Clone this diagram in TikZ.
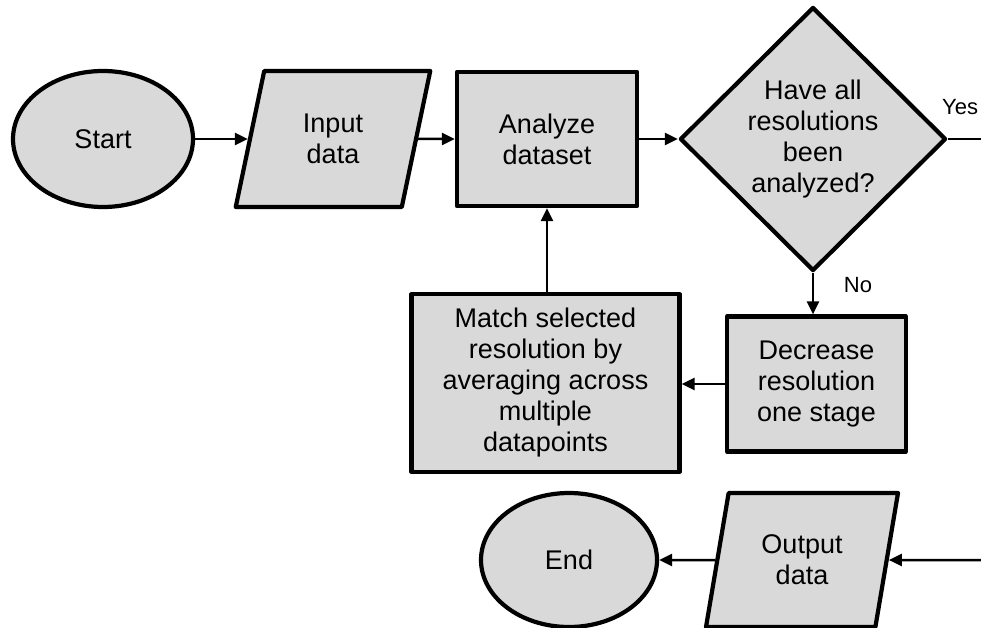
\documentclass[tikz,border=0pt]{standalone}
\usepackage{fontspec}
\setmainfont{Liberation Sans}
\usetikzlibrary{shapes.geometric,arrows.meta}
\definecolor{boxgray}{HTML}{D9D9D9}
\begin{document}
\begin{tikzpicture}[x=1pt,y=-1pt,
  every node/.style={font=\fontsize{27}{31}\selectfont, align=center, inner sep=0pt},
  shapebase/.style={draw=black, fill=boxgray, line width=4.2pt, line join=round},
  terminal/.style={shapebase, ellipse},
  process/.style={shapebase, rectangle},
  io/.style={shapebase, trapezium, trapezium left angle=76, trapezium right angle=104,
             trapezium stretches=true},
  decision/.style={shapebase, diamond},
  flow/.style={line width=2.5pt, -{Triangle[length=13pt,width=12pt]}},
  plainline/.style={line width=2.5pt},
  lbl/.style={font=\fontsize{22}{26}\selectfont}
]
\useasboundingbox (0,0) rectangle (981,628);

% top row
\node[terminal, minimum width=180, minimum height=136] (start) at (103,139) {Start};
\node[io, minimum width=196, minimum height=136] (inp) at (333,139) {Input\\data};
\node[process, minimum width=180, minimum height=134] (ana) at (547,139) {Analyze\\dataset};
\node[decision, minimum width=266, minimum height=264] (q) at (813,139)
  {Have all\\resolutions\\been\\analyzed?};

% loop back
\node[process, minimum width=179, minimum height=135] (decr) at (816.5,384)
  {Decrease\\resolution\\one stage};
\node[process, minimum width=268, minimum height=178] (match) at (545.5,383)
  {Match selected\\resolution by\\averaging across\\multiple\\datapoints};

% bottom row
\node[terminal, minimum width=176, minimum height=134] (stop) at (569,560) {End};
\node[io, minimum width=192, minimum height=134] (outp) at (802,560) {Output\\data};

% branch labels
\node[lbl, anchor=west] (yes) at (942,107) {Yes};
\node[lbl] (no) at (858,285) {No};

% loose ends at the right border
\coordinate (yesend) at (981,139);
\coordinate (outsrc) at (981,560);

% connectors
\draw[flow] (start) -- (inp);
\draw[flow] (inp) -- (ana);
\draw[flow] (ana) -- (q);
\draw[plainline] (q.east) -- (yesend);
\draw[flow] (q.south) -- (q.south |- decr.north);
\draw[flow] (decr.west) -- (decr.west -| match.east);
\draw[flow] (match.north -| ana.south) -- (ana.south);
\draw[flow] (outsrc) -- (outp);
\draw[flow] (outp) -- (stop);
\end{tikzpicture}
\end{document}
